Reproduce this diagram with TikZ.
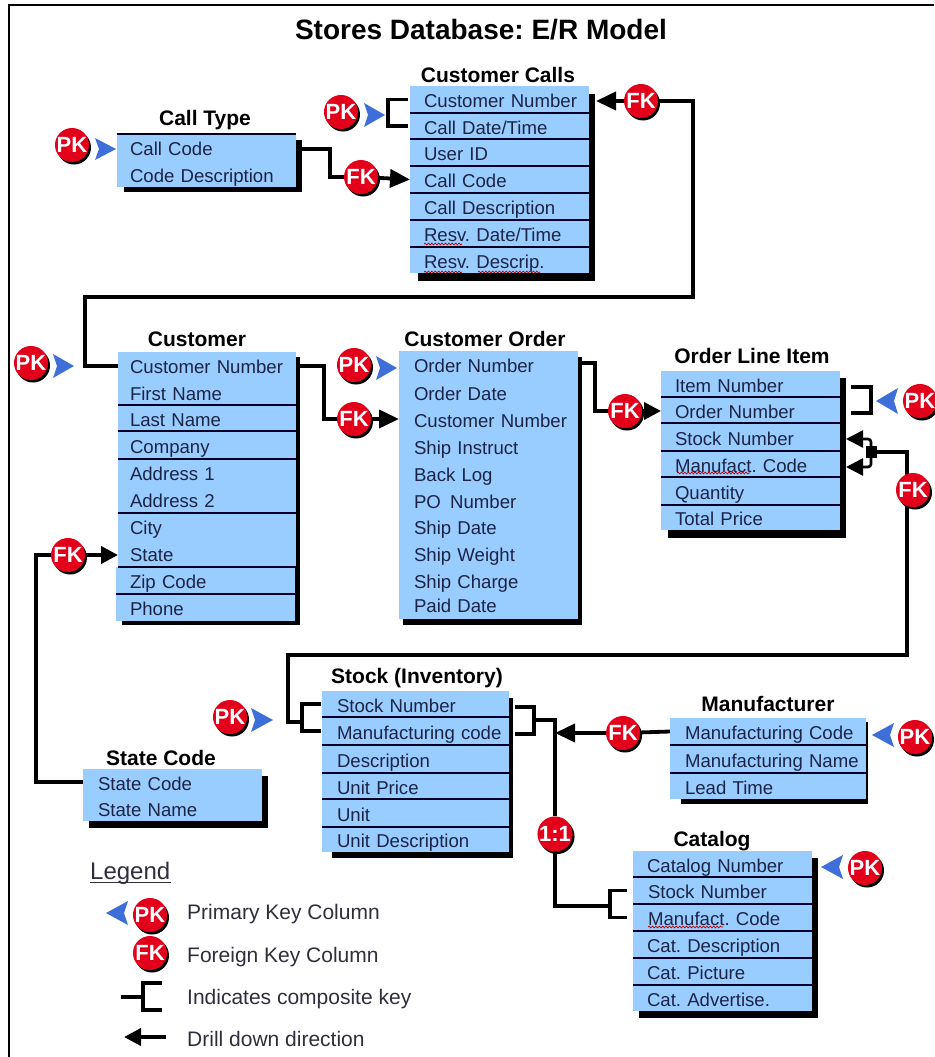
\documentclass[tikz,border=0pt]{standalone}
\usepackage{fontspec}
\setmainfont{Liberation Sans}
\frenchspacing
\usetikzlibrary{arrows.meta,shadows,decorations.pathmorphing}
\pgfdeclarelayer{back}
\pgfdeclarelayer{bg}
\pgfsetlayers{back,bg,main}
\definecolor{rowblue}{RGB}{153,204,255}
\definecolor{rowtext}{RGB}{28,36,70}
\definecolor{keyred}{RGB}{226,0,26}
\definecolor{keyblue}{RGB}{62,110,216}
\definecolor{legtext}{RGB}{50,45,60}
\tikzset{
  x=1pt,y=-1pt,
  rowbox/.style={rectangle,fill=rowblue,draw=none,inner ysep=0pt,outer sep=0pt,align=left,
    text=rowtext,font=\fontsize{18.6}{22}\selectfont,text height=19pt,text depth=3pt},
  sepline/.style={draw=black!85!blue,line width=1.4pt},
  tabletitle/.style={font=\bfseries\fontsize{21}{24}\selectfont,text=black,inner sep=0pt},
  badge/.style={circle,fill=keyred,text=white,minimum size=34pt,inner sep=0pt,
    font=\bfseries\fontsize{22}{22}\selectfont,
    general shadow={fill=black,shadow xshift=2pt,shadow yshift=-2.5pt}},
  conn/.style={draw=black,line width=3.8pt,line join=miter},
  thinconn/.style={draw=black,line width=2.6pt,rounded corners=3pt},
  tipped/.style={-{Triangle[length=20pt,width=18pt]}},
  smalltipped/.style={-{Triangle[length=17pt,width=17pt]}},
  squig/.style={draw=red!75!black,line width=.7pt,decorate,decoration={snake,segment length=3.4pt,amplitude=.9pt}},
  legendtext/.style={font=\fontsize{21}{24}\selectfont,text=legtext,anchor=west,inner sep=0pt},
}
% name, x0, x1, y0, y1, left padding, text
\newcommand{\drow}[7]{%
  \pgfmathsetmacro{\rowW}{#3-#2}\pgfmathsetmacro{\rowH}{#5-#4}\pgfmathsetmacro{\rowT}{#3-#2-2*#6}%
  \node[rowbox,minimum width=\rowW pt,minimum height=\rowH pt,inner xsep=#6pt,text width=\rowT pt]
    (#1) at ({(#2+#3)/2},{(#4+#5)/2}) {\mbox{#7}};}
% x0,x1,y0,y1 of the body, then shadow x0,y0,x1,y1
\newcommand{\dbody}[8]{%
  \fill[black] (#5,#6) rectangle (#7,#8);
  \fill[rowblue] (#1,#3) rectangle (#2,#4);}
\newcommand{\dsep}[1]{\draw[sepline] (#1.south west) -- (#1.south east);}
\newcommand{\pkright}[4]{\fill[keyblue] (#1,#3-#4) -- (#2,#3) -- (#1,#3+#4) -- (#1+4,#3) -- cycle;}
\newcommand{\pkleft}[4]{\fill[keyblue] (#2,#3-#4) -- (#1,#3) -- (#2,#3+#4) -- (#2-4,#3) -- cycle;}
\begin{document}
\begin{tikzpicture}
\useasboundingbox (0,0) rectangle (934,1057);
\begin{pgfonlayer}{back}
\fill[white] (0,0) rectangle (934,1057);
\end{pgfonlayer}
\draw[black,line width=2pt] (9,1057) -- (9,5) -- (934,5);

\node[inner sep=0pt,font=\bfseries\fontsize{28}{32}\selectfont] (title) at (481,30) {Stores Database: E/R Model};

% Call Type
\node[tabletitle] (tCallType) at (205,120) {Call Type};
\dbody{117}{296}{134}{187}{124}{140}{302}{192}
\drow{ct1}{117}{296}{134}{161}{13}{Call Code}
\drow{ct2}{117}{296}{161}{187}{13}{Code Description}
\draw[sepline] (ct1.north west) -- (ct1.north east);

% Customer Calls
\node[tabletitle] (tCalls) at (498,75) {Customer Calls};
\dbody{410}{589}{86}{273}{418}{94}{595}{281}
\drow{cc1}{410}{589}{86}{113}{14}{Customer Number}
\drow{cc2}{410}{589}{113}{139}{14}{Call Date/Time}
\drow{cc3}{410}{589}{139}{166}{14}{User ID}
\drow{cc4}{410}{589}{166}{193}{14}{Call Code}
\drow{cc5}{410}{589}{193}{220}{14}{Call Description}
\drow{cc6}{410}{589}{220}{247}{14}{Resv. Date/Time}
\drow{cc7}{410}{589}{247}{273}{14}{Resv. Descrip.}
\dsep{cc1}\dsep{cc2}\dsep{cc3}\dsep{cc4}\dsep{cc5}\dsep{cc6}
\draw[squig] (424,244) -- (462,244);
\draw[squig] (424,272) -- (462,272);
\draw[squig] (478,272) -- (540,272);

% Customer
\node[tabletitle] (tCustomer) at (197,339) {Customer};
\dbody{118}{295}{352}{621}{122}{357}{300}{625}
\drow{cu1}{118}{296}{352}{379}{12}{Customer Number}
\drow{cu2}{118}{296}{379}{405}{12}{First Name}
\drow{cu3}{118}{296}{405}{431}{12}{Last Name}
\drow{cu4}{118}{296}{431}{459}{12}{Company}
\drow{cu5}{118}{296}{459}{486}{12}{Address 1}
\drow{cu6}{118}{296}{486}{513}{12}{Address 2}
\drow{cu7}{118}{296}{513}{540}{12}{City}
\drow{cu8}{118}{296}{540}{567}{12}{State}
\drow{cu9}{116}{295}{567}{594}{14}{Zip Code}
\drow{cu10}{116}{295}{594}{621}{14}{Phone}
\dsep{cu2}\dsep{cu3}\dsep{cu4}\dsep{cu6}\dsep{cu9}
\draw[draw=black!85!blue,line width=2.6pt] (cu8.south west) -- (cu8.south east);

% Customer Order
\node[tabletitle] (tOrder) at (485,339) {Customer Order};
\dbody{399}{578}{351}{619}{403}{357}{582}{625}
\drow{co1}{399}{578}{351}{378}{15}{Order Number}
\drow{co2}{399}{578}{378}{406}{15}{Order Date}
\drow{co3}{399}{578}{406}{433}{15}{Customer Number}
\drow{co4}{399}{578}{433}{460}{15}{Ship Instruct}
\drow{co5}{399}{578}{460}{487}{15}{Back Log}
\drow{co6}{399}{578}{487}{513}{15}{PO\, Number}
\drow{co7}{399}{578}{513}{540}{15}{Ship Date}
\drow{co8}{399}{578}{540}{567}{15}{Ship Weight}
\drow{co9}{399}{578}{567}{593}{15}{Ship Charge}
\drow{co10}{399}{578}{593}{616}{15}{Paid Date}

% Order Line Item
\node[tabletitle] (tLine) at (752,356) {Order Line Item};
\dbody{661}{840}{371}{530}{668}{378}{846}{538}
\drow{ol1}{661}{840}{371}{397}{14}{Item Number}
\drow{ol2}{661}{840}{397}{423}{14}{Order Number}
\drow{ol3}{661}{840}{423}{451}{14}{Stock Number}
\drow{ol4}{661}{840}{451}{477}{14}{Manufact. Code}
\drow{ol5}{661}{840}{477}{505}{14}{Quantity}
\drow{ol6}{661}{840}{505}{530}{14}{Total Price}
\dsep{ol1}\dsep{ol2}\dsep{ol3}\dsep{ol4}\dsep{ol5}
\draw[squig] (677,473) -- (750,473);

% Stock
\node[tabletitle] (tStock) at (417,678) {Stock (Inventory)};
\dbody{322}{509}{691}{852}{332}{698}{513}{858}
\drow{st1}{322}{509}{691}{717}{15}{Stock Number}
\drow{st2}{322}{509}{717}{745}{15}{Manufacturing code}
\drow{st3}{322}{509}{745}{773}{15}{Description}
\drow{st4}{322}{509}{773}{799}{15}{Unit Price}
\drow{st5}{322}{509}{799}{827}{15}{Unit}
\drow{st6}{322}{509}{827}{852}{15}{Unit Description}
\dsep{st1}\dsep{st2}\dsep{st3}\dsep{st4}\dsep{st5}

% Manufacturer
\node[tabletitle] (tManu) at (768,704) {Manufacturer};
\dbody{670}{866}{718}{799}{681}{722}{868}{804}
\drow{ma1}{670}{866}{718}{745}{15}{Manufacturing Code}
\drow{ma2}{670}{866}{745}{773}{15}{Manufacturing Name}
\drow{ma3}{670}{866}{773}{799}{15}{Lead Time}
\dsep{ma1}\dsep{ma2}

% Catalog
\node[tabletitle] (tCat) at (712,841) {Catalog};
\dbody{633}{812}{851}{1011}{639}{858}{818}{1018}
\drow{ca1}{633}{812}{851}{877}{14}{Catalog Number}
\drow{ca2}{633}{812}{877}{904}{15}{Stock Number}
\drow{ca3}{633}{812}{904}{931}{15}{Manufact. Code}
\drow{ca4}{633}{812}{931}{958}{14}{Cat. Description}
\drow{ca5}{633}{812}{958}{985}{14}{Cat. Picture}
\drow{ca6}{633}{812}{985}{1011}{14}{Cat. Advertise.}
\dsep{ca1}\dsep{ca2}\dsep{ca3}\dsep{ca4}\dsep{ca5}
\draw[squig] (648,927) -- (723,927);

% State Code
\node[tabletitle] (tState) at (161,758) {State Code};
\dbody{83}{262}{769}{821}{89}{776}{268}{828}
\drow{sc1}{83}{262}{769}{795}{15}{State Code}
\drow{sc2}{83}{262}{795}{821}{15}{State Name}

% key arrows
\pkright{95}{116}{149}{11}
\pkright{364}{385}{115}{12}
\pkright{53}{74}{366}{12}
\pkright{376}{397}{368}{12}
\pkleft{876}{898}{401}{13}
\pkright{251}{273}{720}{12}
\pkleft{872}{894}{735}{12}
\pkleft{821}{843}{867}{12}

% badges
\node[badge] (pkCallType) at (72,145) {PK};
\node[badge] (pkCalls) at (341,112) {PK};
\node[badge] (fkCallCode) at (361,177) {FK};
\node[badge] (fkCalls) at (641,101) {FK};
\node[badge] (pkCustomer) at (31,363) {PK};
\node[badge] (pkOrder) at (354,365) {PK};
\node[badge] (fkOrder) at (354,419) {FK};
\node[badge] (fkLine) at (625,411) {FK};
\node[badge] (pkLine) at (920,401) {PK};
\node[badge] (fkStockLine) at (913,490) {FK};
\node[badge] (fkState) at (68,555) {FK};
\node[badge] (pkStock) at (230,717) {PK};
\node[badge] (fkManu) at (623,733) {FK};
\node[badge] (pkManu) at (915,737) {PK};
\node[badge] (pkCat) at (865,868) {PK};
\node[badge] (oneone) at (555,834) {1:1};

% junction on Order Line Item
\node[rectangle,fill=black,minimum width=11pt,minimum height=12pt,inner sep=0pt] (jct) at (871,452) {};

% free bends
\coordinate (b1) at (330,149);
\coordinate (b2) at (693,101);
\coordinate (b3) at (693,297);
\coordinate (b4) at (85,297);
\coordinate (b5) at (85,366);
\coordinate (b6) at (324,366);
\coordinate (b7) at (595,363);
\coordinate (b8) at (907,655);
\coordinate (b9) at (288,655);
\coordinate (b10) at (288,722);
\coordinate (b11) at (302,722);
\coordinate (b12) at (534,720);
\coordinate (b13) at (555,720);
\coordinate (b14) at (555,906);
\coordinate (b15) at (610,906);
\coordinate (b16) at (36,782);
\coordinate (b17) at (36,555);
\coordinate (b19) at (388,113);
\coordinate (b20) at (871,400);

\begin{pgfonlayer}{bg}
  \draw[conn] (ct1.east |- b1) -- (b1) |- (fkCallCode);
  \draw[conn,tipped] (fkCallCode) -- (cc4.west);
  \draw[conn] ([xshift=-2pt]cc1.west) -| (b19) |- ([xshift=-2pt]cc2.west);
  \draw[conn,tipped] (fkCalls) -- ([xshift=7pt]cc1.east |- fkCalls);
  \draw[conn] (fkCalls) -- (b2) -- (b3) -- (b4) -- (b5) -- (cu1.west |- b5);
  \draw[conn] (cu1.east |- b6) -- (b6) |- (fkOrder);
  \draw[conn,tipped] (fkOrder) -- (co3.west |- fkOrder);
  \draw[conn] ([xshift=4pt]co1.east |- b7) -- (b7) |- (fkLine);
  \draw[conn,smalltipped] (fkLine) -- (ol2.west |- fkLine);
  \draw[conn] ([shift={(11,3)}]ol1.east) -| (b20) |- ([shift={(11,3)}]ol2.east);
  \draw[thinconn,smalltipped] (jct.north) |- ([shift={(6,2)}]ol3.east);
  \draw[thinconn,smalltipped] (jct.south) |- ([shift={(6,3)}]ol4.east);
  \draw[conn] (jct.east) -| (b8) -- (b9) -- (b10) -- (b11);
  \draw[conn] ([xshift=-1pt]st1.west) -| (b11) |- ([xshift=-1pt]st2.west);
  \draw[conn] ([shift={(6,3)}]st1.east) -| (b12) |- ([shift={(6,3)}]st2.east);
  \draw[conn] (b12) -- (b13) -- (oneone);
  \draw[conn] (oneone) -- (b14) -- (b15);
  \draw[conn] ([xshift=-6pt]ca2.west) -| (b15) |- ([xshift=-6pt]ca3.west);
  \draw[conn] (ma1.west) -- (fkManu);
  \draw[conn,tipped] (fkManu) -- (b13 |- fkManu);
  \draw[conn] (sc1.west) -- (b16) -- (b17) -- (fkState);
  \draw[conn,smalltipped] (fkState) -- (cu8.west |- fkState);
\end{pgfonlayer}

% Legend
\node[inner sep=0pt,anchor=west,font=\fontsize{24}{28}\selectfont,text=legtext] (legend) at (90,873) {Legend};
\draw[legtext,line width=1.3pt] (legend.south west) ++(0,-2) -- ++(81,0);
\pkleft{106}{128}{913}{12}
\node[badge] (lgPK) at (150,915) {PK};
\node[badge] (lgFK) at (150,953) {FK};
\node[legendtext] (lgT1) at (187,914) {Primary Key Column};
\node[legendtext] (lgT2) at (187,957) {Foreign Key Column};
\node[legendtext] (lgT3) at (187,999) {Indicates composite key};
\node[legendtext] (lgT4) at (187,1039) {Drill down direction};
\coordinate (lg1) at (121,997);
\coordinate (lg2) at (143,997);
\coordinate (lg3) at (162,983);
\coordinate (lg4) at (162,1010);
\coordinate (lg5) at (166,1037);
\coordinate (lg6) at (124,1037);
\draw[conn] (lg1) -- (lg2);
\draw[conn] (lg3) -| (lg2) |- (lg4);
\draw[conn,smalltipped] (lg5) -- (lg6);
\end{tikzpicture}
\end{document}
